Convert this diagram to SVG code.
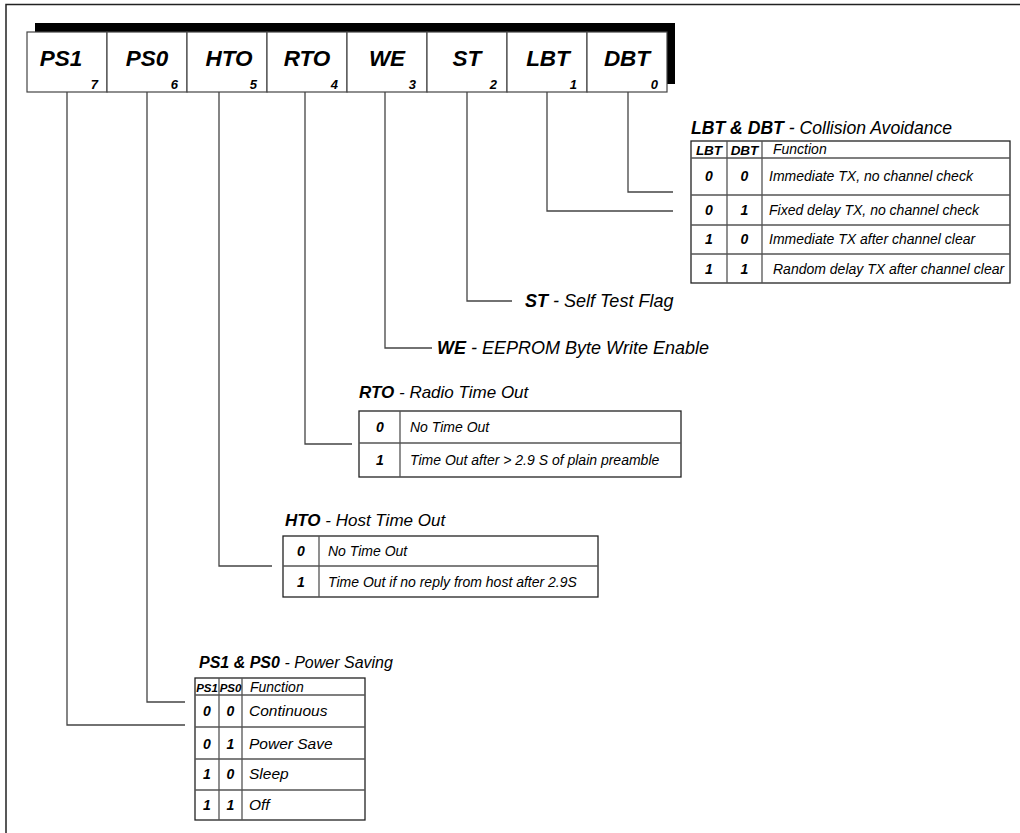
<svg xmlns="http://www.w3.org/2000/svg" width="1020" height="833" viewBox="0 0 1020 833">
<style>
text{font-family:"Liberation Sans",Arial,sans-serif;fill:#000}
.frame{fill:none;stroke:#222;stroke-width:1.5}
.cell{fill:#fff;stroke:#444;stroke-width:1.2}
.conn{fill:none;stroke:#444;stroke-width:1.3}
.tbl{fill:#fff;stroke:#222;stroke-width:1.3}
.grid{stroke:#555;stroke-width:1.3}
.reg{font-size:22.5px;font-weight:bold;font-style:italic;text-anchor:middle}
.bit{font-size:13px;font-weight:bold;font-style:italic;text-anchor:end}
.lbl{font-size:18px;font-style:italic}
.ttl{font-size:17px;font-style:italic}
.b{font-weight:bold}
.hd{font-size:13.5px;font-weight:bold;font-style:italic;text-anchor:middle}
.fn{font-size:14px;font-style:italic}
.val{font-size:14px;font-weight:bold;font-style:italic;text-anchor:middle}
.ps .hd{font-size:11.5px}
.ps .row{font-size:15.5px}
</style>
<rect width="1020" height="833" fill="#fff"/>
<path class="frame" d="M1020,4.5 H6 V833"/>

<g id="register">
<rect x="35" y="23" width="640" height="61" fill="#000"/>
<rect class="cell" x="27" y="32" width="80" height="60"/>
<rect class="cell" x="107" y="32" width="80" height="60"/>
<rect class="cell" x="187" y="32" width="80" height="60"/>
<rect class="cell" x="267" y="32" width="80" height="60"/>
<rect class="cell" x="347" y="32" width="80" height="60"/>
<rect class="cell" x="427" y="32" width="80" height="60"/>
<rect class="cell" x="507" y="32" width="80" height="60"/>
<rect class="cell" x="587" y="32" width="80" height="60"/>
<text class="reg" x="61" y="66">PS1</text>
<text class="reg" x="147" y="66">PS0</text>
<text class="reg" x="229" y="66">HTO</text>
<text class="reg" x="307" y="66">RTO</text>
<text class="reg" x="387" y="66">WE</text>
<text class="reg" x="467" y="66">ST</text>
<text class="reg" x="548" y="66">LBT</text>
<text class="reg" x="627" y="66">DBT</text>
<text class="bit" x="98" y="89">7</text>
<text class="bit" x="178" y="89">6</text>
<text class="bit" x="257" y="89">5</text>
<text class="bit" x="338" y="89">4</text>
<text class="bit" x="416" y="89">3</text>
<text class="bit" x="497" y="89">2</text>
<text class="bit" x="577" y="89">1</text>
<text class="bit" x="658" y="89">0</text>
</g>

<g id="connectors">
<path class="conn" d="M67,92 V725 H185"/>
<path class="conn" d="M147,92 V702 H185"/>
<path class="conn" d="M219,92 V566 H272"/>
<path class="conn" d="M305,92 V444 H352"/>
<path class="conn" d="M385,92 V348 H432"/>
<path class="conn" d="M467,92 V301 H512"/>
<path class="conn" d="M547,92 V211 H673"/>
<path class="conn" d="M628,92 V192 H673"/>
</g>

<g id="lbt-dbt">
<text class="ttl" x="691" y="134" style="font-size:17.6px"><tspan class="b">LBT &amp; DBT</tspan> - Collision Avoidance</text>
<rect class="tbl" x="691" y="141" width="319" height="142"/>
<path class="grid" d="M691,158 H1010 M691,195 H1010 M691,225 H1010 M691,254 H1010 M727,141 V283 M762,141 V283"/>
<text class="hd" x="709" y="154.5">LBT</text>
<text class="hd" x="744.5" y="154.5">DBT</text>
<text class="fn" x="773" y="154">Function</text>
<text class="val" x="709" y="181">0</text><text class="val" x="744.5" y="181">0</text>
<text class="fn" x="769" y="181">Immediate TX, no channel check</text>
<text class="val" x="709" y="215">0</text><text class="val" x="744.5" y="215">1</text>
<text class="fn" x="769" y="215">Fixed delay TX, no channel check</text>
<text class="val" x="709" y="244">1</text><text class="val" x="744.5" y="244">0</text>
<text class="fn" x="769" y="244">Immediate TX after channel clear</text>
<text class="val" x="709" y="274">1</text><text class="val" x="744.5" y="274">1</text>
<text class="fn" x="773" y="274">Random delay TX after channel clear</text>
</g>

<g id="st">
<text class="lbl" x="525" y="307"><tspan class="b">ST</tspan> - Self Test Flag</text>
</g>

<g id="we">
<text class="lbl" x="437" y="354"><tspan class="b">WE</tspan> - EEPROM Byte Write Enable</text>
</g>

<g id="rto">
<text class="ttl" x="359" y="398"><tspan class="b">RTO</tspan> - Radio Time Out</text>
<rect class="tbl" x="359" y="411" width="322" height="66"/>
<path class="grid" d="M359,443 H681 M400,411 V477"/>
<text class="val" x="380" y="432">0</text>
<text class="fn" x="410" y="432">No Time Out</text>
<text class="val" x="380" y="465">1</text>
<text class="fn" x="410" y="465">Time Out after &gt; 2.9 S of plain preamble</text>
</g>

<g id="hto">
<text class="ttl" x="285" y="526"><tspan class="b">HTO</tspan> - Host Time Out</text>
<rect class="tbl" x="283" y="536" width="315" height="61"/>
<path class="grid" d="M283,566 H598 M319,536 V597"/>
<text class="val" x="301" y="556">0</text>
<text class="fn" x="328" y="556">No Time Out</text>
<text class="val" x="301" y="587">1</text>
<text class="fn" x="328" y="587">Time Out if no reply from host after 2.9S</text>
</g>

<g id="ps" class="ps">
<text class="ttl" x="199" y="668" style="font-size:16px"><tspan class="b">PS1 &amp; PS0</tspan> - Power Saving</text>
<rect class="tbl" x="195" y="678" width="170" height="142"/>
<path class="grid" d="M195,695 H365 M195,727 H365 M195,759 H365 M195,790 H365 M219,678 V820 M242,678 V820"/>
<text class="hd" x="207" y="691.5">PS1</text>
<text class="hd" x="230.5" y="691.5">PS0</text>
<text class="fn" x="250" y="691.5">Function</text>
<text class="val" x="207" y="716">0</text><text class="val" x="230.5" y="716">0</text>
<text class="fn row" x="249" y="716">Continuous</text>
<text class="val" x="207" y="749">0</text><text class="val" x="230.5" y="749">1</text>
<text class="fn row" x="249" y="749">Power Save</text>
<text class="val" x="207" y="779">1</text><text class="val" x="230.5" y="779">0</text>
<text class="fn row" x="249" y="779">Sleep</text>
<text class="val" x="207" y="810">1</text><text class="val" x="230.5" y="810">1</text>
<text class="fn row" x="249" y="810">Off</text>
</g>
</svg>
